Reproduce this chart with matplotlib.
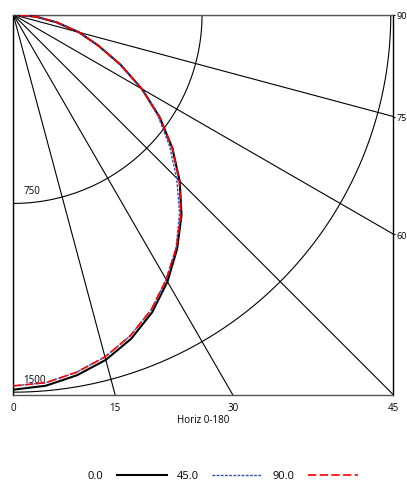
import numpy as np
import matplotlib
matplotlib.use("Agg")
import matplotlib.pyplot as plt

# Vertical angles (deg from nadir) and candela values for each C-plane
angles = [0, 5, 10, 15, 20, 25, 30, 35, 40, 45, 50, 55, 60, 65, 70, 75, 80, 85, 90]
cd_0 = [1490, 1480, 1455, 1420, 1370, 1305, 1225, 1135, 1040, 935, 825, 710, 590, 470, 360, 270, 175, 90, 10]
cd_45 = [1475, 1468, 1443, 1408, 1358, 1295, 1215, 1128, 1028, 918, 810, 702, 590, 470, 360, 270, 176, 91, 11]
cd_90 = [1475, 1468, 1443, 1408, 1358, 1295, 1215, 1130, 1036, 933, 826, 710, 590, 470, 360, 270, 176, 91, 11]

series_names = ["0.0", "45.0", "90.0"]
grid_angles = [0, 15, 30, 45, 60, 75, 90]
ring_values = [750, 1500]
bottom_labels = ["0", "15", "30", "45"]
right_labels = ["60", "75", "90"]

rmax = 1510

fig = plt.figure(figsize=(4.07, 4.85), dpi=100)
ax = fig.add_axes([13.3 / 407, (485 - 395.7) / 485, 380 / 407, 380 / 485])
ax.set_xlim(0, rmax)
ax.set_ylim(-rmax, 0)

font = ["Open Sans", "DejaVu Sans"]


def to_xy(ang, val):
    t = np.radians(np.asarray(ang, dtype=float))
    v = np.asarray(val, dtype=float)
    return v * np.sin(t), -v * np.cos(t)


# radial lines from the light source
for a in grid_angles:
    x, y = to_xy([a, a], [0, 3 * rmax])
    ax.plot(x, y, color="black", lw=0.8, zorder=1)

# candela rings
arc = np.linspace(0, 90, 200)
for rv in ring_values:
    x, y = to_xy(arc, np.full_like(arc, rv))
    ax.plot(x, y, color="black", lw=0.8, zorder=1)
ax.text(40, -700, "750", fontsize=7, family=font, va="center", ha="left")
ax.text(40, -1450, "1500", fontsize=7, family=font, va="center", ha="left")

# intensity curves
x, y = to_xy(angles, cd_0)
ax.plot(x, y, color="black", lw=1.5, label=series_names[0], zorder=3)
x, y = to_xy(angles, cd_45)
ax.plot(x, y, color="#3050c0", lw=1.0, ls=(0, (2, 1)), label=series_names[1], zorder=4)
x, y = to_xy(angles, cd_90)
ax.plot(x, y, color="#ff0000", lw=1.2, ls=(0, (5, 2)), label=series_names[2], zorder=5)

# ticks where the radial lines meet the frame
bx = [min(rmax * np.tan(np.radians(a)), rmax) for a in grid_angles[:4]]
ax.set_xticks(bx)
ax.set_xticklabels(bottom_labels, fontsize=7, family=font)
ry = [-rmax / np.tan(np.radians(a)) if a < 90 else 0 for a in grid_angles[4:]]
ax.yaxis.tick_right()
ax.set_yticks(ry)
ax.set_yticklabels(right_labels, fontsize=6.5, family=font)
ax.tick_params(axis="x", length=0, pad=5)
ax.tick_params(axis="y", length=1.5, pad=0.5)
ax.set_xlabel("Horiz 0-180", fontsize=7, family=font, labelpad=1)

for s in ax.spines.values():
    s.set_linewidth(1.0)
ax.spines["top"].set_color("#555555")
ax.spines["bottom"].set_color("#555555")

fig.legend(loc="center", bbox_to_anchor=(0.547, 1 - 477 / 485), ncol=3, frameon=False,
           markerfirst=False, handlelength=4.5, columnspacing=0.9, handletextpad=1.2,
           prop={"family": font, "size": 8})

fig.savefig("out.png", dpi=100)
